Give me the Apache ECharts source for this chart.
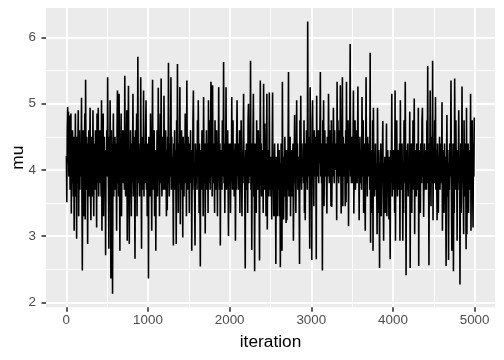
<!DOCTYPE html>
<html>
<head>
<meta charset="utf-8">
<script src="https://cdn.jsdelivr.net/npm/echarts@6/dist/echarts.min.js"></script>
<style>
  html, body { margin: 0; padding: 0; background: #fff; }
  #chart { width: 504px; height: 360px; }
</style>
</head>
<body>
<div id="chart"></div>
<script>
// trace of mu, every 5th iteration
const STEP = 5;
const muTrace = [
  4.21, 3.51, 4.6, 4.95, 4.1, 4.88, 3.9, 4.5, 4.82, 3.7, 4.3, 4.85, 3.34, 4.4, 3.8, 4.6, 4.1, 3.6, 4.5, 3.08,
  4.4, 3.9, 4.85, 3.6, 4.2, 2.96, 4.5, 3.8, 4.3, 4.9, 3.3, 4.1, 4.6, 3.7, 4.4, 3.9, 4.2, 5.09, 3.6, 2.48,
  4.0, 4.6, 3.3, 4.3, 3.8, 4.85, 3.25, 5.36, 4.1, 3.7, 4.5, 4.0, 2.88, 4.4, 3.9, 4.6, 3.6, 4.2, 4.94, 3.7,
  3.24, 4.5, 3.9, 4.3, 3.6, 4.9, 4.0, 3.3, 4.4, 4.1, 3.7, 4.6, 3.9, 4.3, 3.13, 4.85, 3.8, 4.2, 4.94, 3.6,
  4.3, 3.8, 4.6, 3.9, 4.2, 3.6, 5.05, 3.08, 4.4, 4.0, 4.85, 3.3, 4.1, 4.5, 3.7, 4.3, 2.71, 4.2, 3.9, 4.6,
  3.9, 5.40, 4.2, 3.7, 2.81, 4.5, 3.8, 5.05, 4.1, 2.36, 4.6, 3.9, 4.4, 2.13, 4.0, 4.85, 3.6, 4.3, 3.9, 4.5,
  3.7, 4.4, 4.0, 3.08, 4.6, 5.20, 3.8, 4.3, 3.6, 5.15, 4.1, 2.78, 4.5, 3.9, 4.85, 3.3, 4.2, 4.6, 3.8, 4.3,
  4.0, 4.6, 3.7, 5.42, 4.2, 3.6, 4.5, 3.9, 4.9, 2.93, 4.1, 4.4, 5.27, 3.8, 2.88, 4.3, 3.7, 4.6, 4.0, 3.3,
  4.4, 3.8, 4.2, 5.15, 3.6, 4.5, 4.0, 3.7, 2.66, 4.6, 4.1, 3.9, 4.85, 3.3, 4.3, 5.71, 3.8, 4.4, 4.0, 3.6,
  4.2, 3.9, 5.40, 4.1, 2.81, 4.5, 3.7, 4.3, 3.9, 5.20, 3.6, 4.4, 4.0, 3.8, 4.6, 5.05, 3.7, 4.2, 3.3, 4.4,
  4.1, 2.36, 4.5, 3.8, 4.3, 3.6, 4.85, 4.0, 3.9, 3.08, 4.4, 5.36, 3.7, 4.2, 3.9, 4.6, 3.3, 4.3, 4.0, 2.78,
  4.3, 3.8, 4.6, 3.6, 4.1, 5.24, 3.9, 4.4, 3.3, 4.2, 4.85, 3.8, 5.38, 4.0, 3.6, 4.5, 3.9, 4.3, 3.7, 5.12,
  3.9, 4.4, 3.7, 4.6, 4.0, 3.3, 4.3, 3.39, 4.5, 3.8, 5.62, 4.1, 3.6, 4.4, 3.9, 4.2, 5.40, 3.7, 4.5, 4.0,
  4.2, 3.8, 2.86, 4.4, 3.9, 4.6, 3.7, 4.3, 4.0, 2.88, 4.75, 3.9, 5.60, 4.1, 3.35, 4.4, 3.8, 4.2, 5.25, 3.18,
  4.3, 3.9, 4.6, 3.7, 4.1, 2.98, 4.5, 4.0, 3.6, 4.4, 3.8, 4.85, 3.9, 4.2, 3.3, 5.35, 4.0, 3.7, 4.5, 3.9,
  4.2, 3.35, 4.4, 3.9, 4.6, 3.8, 4.3, 2.78, 4.1, 3.7, 4.75, 5.20, 3.9, 4.0, 3.6, 2.86, 4.4, 4.1, 3.8, 4.3,
  3.7, 4.75, 3.9, 5.05, 4.2, 3.35, 4.4, 3.8, 2.54, 4.3, 4.0, 3.7, 4.6, 3.9, 4.2, 3.3, 5.10, 4.1, 3.8, 4.4,
  3.04, 4.3, 3.9, 4.6, 3.7, 4.1, 4.4, 3.35, 5.05, 4.0, 3.8, 4.75, 3.7, 4.2, 5.33, 3.9, 4.4, 3.6, 5.28, 4.0,
  3.8, 4.4, 4.0, 3.35, 4.75, 3.9, 4.2, 3.7, 4.6, 4.0, 3.3, 4.3, 3.9, 5.25, 4.1, 3.7, 4.4, 2.86, 4.2, 3.9,
  4.3, 3.7, 4.75, 3.9, 4.1, 5.63, 3.8, 4.4, 3.35, 4.2, 4.0, 5.25, 3.7, 4.3, 3.9, 4.6, 3.8, 3.0, 4.4, 4.0,
  3.8, 4.4, 3.35, 4.2, 3.9, 5.10, 4.0, 3.7, 4.75, 3.8, 4.3, 3.6, 4.1, 4.4, 2.93, 4.0, 3.7, 4.5, 5.05, 3.9,
  4.1, 3.7, 4.4, 3.9, 4.6, 3.35, 4.2, 3.8, 4.75, 4.0, 3.3, 4.3, 3.9, 4.4, 5.15, 3.8, 4.2, 3.6, 2.51, 4.3,
  3.9, 4.4, 3.7, 4.2, 3.35, 4.75, 5.00, 3.8, 4.3, 3.9, 4.1, 5.65, 3.7, 4.4, 2.79, 4.0, 3.8, 4.5, 5.15, 3.6,
  4.2, 2.47, 4.4, 3.8, 4.1, 3.35, 4.75, 3.9, 4.3, 3.7, 4.6, 4.0, 3.8, 2.63, 4.2, 5.35, 3.9, 4.4, 3.6, 4.1,
  3.8, 4.3, 3.35, 5.30, 4.0, 3.7, 4.7, 3.9, 4.2, 3.3, 4.1, 5.15, 3.1, 4.3, 3.8, 4.0, 3.6, 5.17, 4.1, 3.7,
  4.2, 3.6, 4.0, 3.25, 4.3, 5.17, 3.7, 4.1, 3.3, 3.9, 4.4, 3.3, 3.8, 2.58, 4.2, 3.6, 4.0, 3.3, 4.4, 3.7,
  3.9, 4.3, 3.3, 4.1, 2.53, 3.8, 4.4, 3.6, 2.78, 5.33, 3.9, 4.2, 3.25, 4.0, 3.7, 4.5, 3.6, 4.1, 3.2, 4.3,
  3.24, 4.2, 3.7, 4.4, 5.48, 3.6, 4.0, 3.8, 4.5, 3.3, 4.1, 3.9, 4.3, 3.6, 4.0, 4.4, 2.93, 3.7, 4.2, 4.83,
  3.8, 4.3, 3.35, 4.1, 5.05, 3.9, 4.4, 3.7, 4.2, 4.0, 3.6, 2.58, 4.75, 3.8, 5.12, 4.0, 3.7, 4.4, 3.9, 4.2,
  4.1, 3.8, 4.75, 3.35, 4.2, 3.24, 4.4, 3.9, 4.6, 4.0, 3.7, 6.24, 4.3, 3.9, 4.5, 3.8, 2.81, 5.25, 4.0, 4.4,
  4.3, 2.64, 4.75, 5.05, 4.0, 4.4, 3.45, 4.6, 4.1, 3.9, 4.5, 4.2, 2.65, 5.12, 3.9, 4.4, 4.0, 4.6, 3.8, 4.3,
  4.1, 4.6, 5.48, 3.9, 4.4, 3.8, 4.2, 2.48, 4.75, 4.0, 5.05, 3.45, 4.3, 4.6, 3.9, 4.4, 4.1, 3.8, 3.34, 4.5,
  4.2, 3.9, 5.15, 4.4, 3.8, 4.6, 4.0, 4.3, 3.45, 4.75, 3.44, 4.1, 4.4, 3.9, 4.94, 4.2, 3.8, 4.6, 4.0, 4.3,
  4.0, 4.4, 3.24, 5.33, 3.9, 4.75, 4.1, 3.8, 4.3, 4.6, 3.9, 5.28, 4.2, 3.34, 4.4, 4.0, 5.40, 3.45, 4.5, 4.1,
  3.9, 4.4, 4.1, 3.45, 4.6, 3.51, 5.33, 4.0, 4.3, 3.8, 4.75, 3.15, 4.2, 4.0, 4.4, 5.90, 3.9, 4.3, 3.8, 4.5,
  4.1, 3.8, 4.4, 5.20, 3.34, 4.2, 3.9, 4.75, 3.7, 4.3, 4.0, 4.6, 3.8, 4.2, 5.26, 3.9, 4.4, 3.24, 4.1, 4.5,
  3.8, 4.3, 4.0, 3.7, 5.10, 4.2, 3.9, 4.75, 3.35, 4.1, 4.4, 3.8, 3.08, 4.3, 5.40, 3.9, 4.2, 3.6, 4.5, 4.0,
  4.2, 3.9, 4.4, 3.7, 5.77, 2.90, 4.3, 3.8, 4.1, 3.35, 4.75, 2.78, 4.94, 3.9, 4.2, 3.6, 4.0, 4.4, 3.7, 4.1,
  3.8, 3.03, 4.94, 4.0, 3.35, 4.3, 3.9, 2.52, 4.1, 3.7, 4.4, 3.3, 4.0, 3.8, 4.2, 4.74, 3.6, 2.93, 4.1, 3.7,
  4.2, 3.35, 4.0, 3.8, 4.7, 3.3, 3.9, 4.3, 3.7, 4.1, 3.25, 4.2, 3.9, 2.65, 4.3, 3.8, 4.0, 5.15, 3.6, 4.1,
  3.9, 4.3, 3.7, 4.1, 3.35, 5.20, 2.93, 4.2, 3.8, 4.75, 4.0, 3.6, 4.3, 3.9, 4.1, 3.7, 4.4, 2.93, 5.05, 3.8,
  4.2, 3.7, 4.4, 3.9, 2.93, 4.1, 3.35, 4.75, 3.8, 4.2, 5.33, 3.9, 2.41, 4.3, 3.7, 4.0, 4.4, 3.6, 4.1, 3.8,
  4.0, 4.88, 2.52, 4.2, 3.8, 4.4, 3.35, 4.1, 3.9, 4.75, 3.7, 4.2, 5.08, 3.03, 4.3, 3.9, 4.1, 3.6, 4.4, 3.8,
  4.1, 3.7, 4.94, 2.55, 4.3, 3.9, 4.2, 3.35, 4.4, 4.0, 3.8, 4.75, 4.94, 3.9, 4.2, 3.29, 4.0, 4.4, 3.7, 4.2,
  3.9, 4.3, 3.7, 4.75, 4.0, 5.57, 3.8, 4.2, 2.56, 4.4, 3.9, 5.20, 4.1, 3.45, 4.5, 4.0, 3.8, 5.65, 3.24, 4.3,
  4.2, 3.8, 4.75, 4.0, 5.10, 3.7, 4.3, 3.9, 3.24, 4.4, 4.0, 3.35, 4.2, 3.9, 4.5, 3.7, 4.1, 3.8, 4.4, 4.0,
  5.02, 3.08, 4.3, 3.8, 4.1, 3.35, 4.4, 3.9, 4.2, 3.7, 2.55, 4.0, 4.83, 3.6, 4.3, 3.8, 2.64, 4.1, 3.7, 4.4,
  3.9, 4.3, 5.35, 3.7, 2.78, 4.1, 3.8, 4.4, 2.47, 4.0, 3.35, 5.38, 4.2, 3.7, 4.75, 3.9, 4.1, 2.93, 4.3, 3.8,
  4.1, 4.90, 3.7, 4.2, 2.27, 3.9, 4.4, 3.35, 4.0, 5.26, 3.8, 4.3, 3.7, 3.03, 4.75, 3.9, 4.1, 3.6, 4.4, 2.80,
  4.94, 3.03, 4.2, 3.8, 4.4, 3.35, 4.1, 3.9, 4.3, 3.7, 5.15, 3.08, 4.2, 3.9, 4.75, 3.8, 3.13, 4.4, 3.9, 4.79
];

const xTicks = [0, 1000, 2000, 3000, 4000, 5000];
const xMinorTicks = [500, 1500, 2500, 3500, 4500];
const yTicks = [2, 3, 4, 5, 6];
const yMinorTicks = [2.5, 3.5, 4.5, 5.5];

const FONT = "'Liberation Sans', Arial, sans-serif";
const X_MIN = -249, X_MAX = 5250;
const Y_MIN = 1.925, Y_MAX = 6.445;

const chart = echarts.init(document.getElementById("chart"));

function majorAxis(min, max, ticks, labelMargin, extra) {
  return Object.assign({
    type: "value",
    min: min,
    max: max,
    axisLine: { show: false, onZero: false },
    axisTick: { show: true, customValues: ticks, length: 4.4, lineStyle: { color: "#333333", width: 1.6 } },
    axisLabel: {
      customValues: ticks, color: "#4D4D4D", fontSize: 13.4, fontFamily: FONT,
      margin: labelMargin, formatter: (v) => String(v),
    },
    splitLine: { show: true, lineStyle: { color: "#ffffff", width: 1.8 } },
    nameLocation: "middle",
    nameMoveOverlap: false,
    nameTextStyle: { color: "#000000", fontSize: 17.3, fontFamily: FONT },
  }, extra);
}

function minorAxis(min, max, ticks, position) {
  return {
    type: "value",
    min: min,
    max: max,
    position: position,
    axisLine: { show: false, onZero: false },
    axisTick: { show: false, customValues: ticks },
    axisLabel: { show: false },
    splitLine: { show: true, lineStyle: { color: "#ffffff", width: 0.9 } },
  };
}

chart.setOption({
  animation: false,
  backgroundColor: "#ffffff",
  grid: {
    left: 46, right: 9, top: 8, bottom: 52.7,
    outerBoundsMode: "none",
    show: true, backgroundColor: "#EBEBEB", borderWidth: 0,
  },
  xAxis: [
    majorAxis(X_MIN, X_MAX, xTicks, 7, { position: "bottom", name: "iteration", nameGap: 26 }),
    minorAxis(X_MIN, X_MAX, xMinorTicks, "top"),
  ],
  yAxis: [
    majorAxis(Y_MIN, Y_MAX, yTicks, 10, { position: "left", name: "mu", nameGap: 19, nameRotate: 90 }),
    minorAxis(Y_MIN, Y_MAX, yMinorTicks, "right"),
  ],
  series: [
    {
      type: "line",
      xAxisIndex: 0,
      yAxisIndex: 0,
      data: muTrace.map((v, i) => [i * STEP + 1, v]),
      showSymbol: false,
      symbol: "none",
      sampling: null,
      lineStyle: { color: "#000000", width: 1.6 },
      clip: true,
    },
  ],
});
</script>
</body>
</html>
